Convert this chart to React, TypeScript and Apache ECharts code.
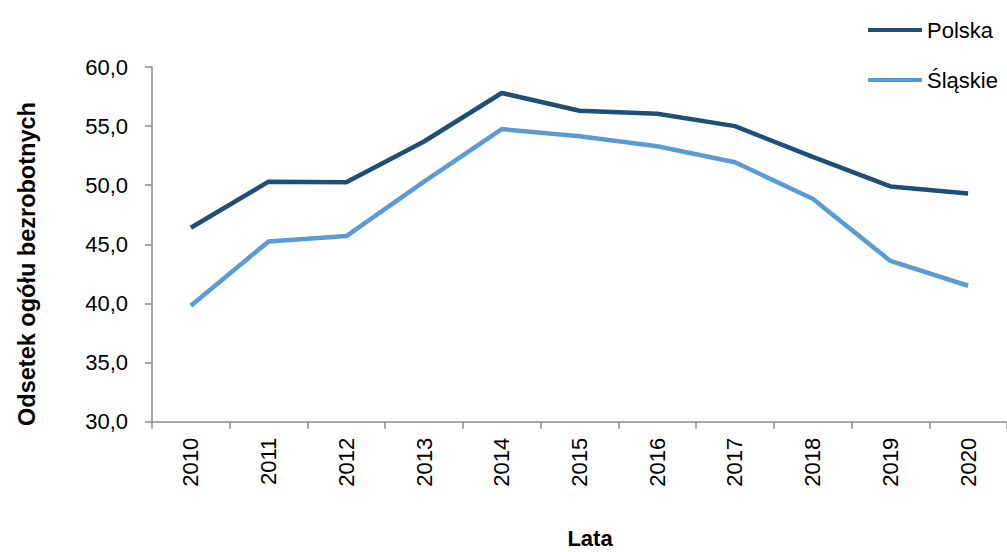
import React, { useEffect, useRef } from "react";
import * as echarts from "echarts";

const years = ["2010", "2011", "2012", "2013", "2014", "2015", "2016", "2017", "2018", "2019", "2020"];
const polska = [46.4, 50.3, 50.25, 53.7, 57.8, 56.3, 56.05, 55.0, 52.4, 49.9, 49.3];
const slaskie = [39.8, 45.25, 45.7, 50.3, 54.75, 54.15, 53.3, 51.95, 48.85, 43.6, 41.5];
const seriesNames = ["Polska", "Śląskie"];
const yAxisTitle = "Odsetek ogółu bezrobotnych";
const xAxisTitle = "Lata";

const FONT = "'Liberation Sans', Arial, sans-serif";
const AXIS_COLOR = "#8c8c8c";

export default function App() {
  const ref = useRef<HTMLDivElement>(null);
  useEffect(() => {
    if (!ref.current) return;
    const chart = echarts.init(ref.current, undefined, { renderer: "svg" });
    chart.setOption({
      animation: false,
      backgroundColor: "#ffffff",
      textStyle: { fontFamily: FONT },
      grid: { left: 152, top: 67, width: 860, height: 354.7, containLabel: false },
      legend: {
        orient: "vertical",
        left: 863,
        top: 13,
        itemWidth: 54,
        itemHeight: 4,
        itemGap: 26,
        icon: "rect",
        data: seriesNames,
        textStyle: { fontFamily: FONT, fontSize: 22, color: "#000", lineHeight: 24 },
      },
      xAxis: {
        type: "category",
        data: years,
        boundaryGap: true,
        axisLine: { show: true, lineStyle: { color: AXIS_COLOR, width: 1.5 } },
        axisTick: { show: true, length: 7, lineStyle: { color: AXIS_COLOR, width: 1.5 } },
        axisLabel: { rotate: 90, margin: 16, fontSize: 22, color: "#000", fontFamily: FONT },
        splitLine: { show: false },
      },
      yAxis: {
        type: "value",
        min: 30,
        max: 60,
        interval: 5,
        axisLine: { show: true, lineStyle: { color: AXIS_COLOR, width: 1.5 } },
        axisTick: { show: true, length: 7, lineStyle: { color: AXIS_COLOR, width: 1.5 } },
        axisLabel: {
          margin: 24,
          fontSize: 22,
          color: "#000",
          fontFamily: FONT,
          formatter: (v: number) => v.toFixed(1).replace(".", ","),
        },
        splitLine: { show: false },
      },
      graphic: [
        {
          type: "text",
          x: 27,
          y: 264,
          rotation: Math.PI / 2,
          style: {
            text: yAxisTitle,
            font: `bold 23.5px ${FONT}`,
            fill: "#000",
            align: "center",
            verticalAlign: "middle",
          },
        },
        {
          type: "text",
          x: 590,
          y: 538,
          style: {
            text: xAxisTitle,
            font: `bold 22px ${FONT}`,
            fill: "#000",
            align: "center",
            verticalAlign: "middle",
          },
        },
      ],
      series: [
        {
          name: seriesNames[0],
          type: "line",
          data: polska,
          symbol: "none",
          lineStyle: { color: "#1f4e79", width: 4.5 },
          itemStyle: { color: "#1f4e79" },
        },
        {
          name: seriesNames[1],
          type: "line",
          data: slaskie,
          symbol: "none",
          lineStyle: { color: "#5b9bd5", width: 4.5 },
          itemStyle: { color: "#5b9bd5" },
        },
      ],
    });
    return () => chart.dispose();
  }, []);
  return <div ref={ref} style={{ width: 1007, height: 552, position: "absolute", left: 0, top: 0 }} />;
}
